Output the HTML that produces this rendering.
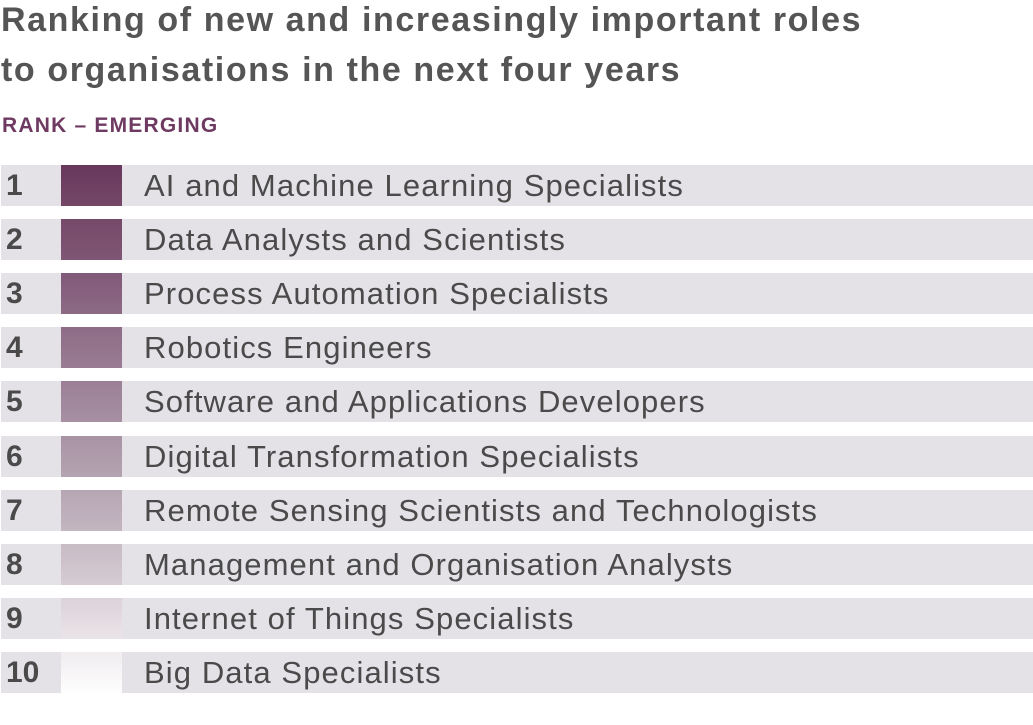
<!DOCTYPE html>
<html><head><style>
body{margin:0;width:1033px;height:725px;background:#fff;font-family:"Liberation Sans",sans-serif;color:#4a4a4a;position:relative;overflow:hidden}
.t{position:absolute;left:1px;font-size:34px;font-weight:bold;color:#555;letter-spacing:1.6px;white-space:nowrap}
.sub{position:absolute;left:2px;top:114px;font-size:21px;font-weight:bold;color:#6e3a62;letter-spacing:1.2px}
.row{position:absolute;left:1px;width:1032px;height:41px;background:#e4e2e7}
.n{position:absolute;left:5px;top:4px;font-size:30px;line-height:34px;font-weight:bold;color:#4a4a4a}
.sw{position:absolute;left:60px;width:61px;top:0;height:41px}
.l{position:absolute;left:143px;top:3px;font-size:31px;color:#4a4a4a;letter-spacing:1.1px;white-space:nowrap}
</style></head><body>
<div class="t" style="top:1px">Ranking of new and increasingly important roles</div>
<div class="t" style="top:51px">to organisations in the next four years</div>
<div class="sub">RANK – EMERGING</div>
<div class="row" style="top:165px"><span class="n">1</span><div class="sw" style="background:linear-gradient(#68375c,#744767)"></div><span class="l">AI and Machine Learning Specialists</span></div>
<div class="row" style="top:219px"><span class="n">2</span><div class="sw" style="background:linear-gradient(#764969,#7f5674)"></div><span class="l">Data Analysts and Scientists</span></div>
<div class="row" style="top:273px"><span class="n">3</span><div class="sw" style="background:linear-gradient(#81597a,#8c6a84)"></div><span class="l">Process Automation Specialists</span></div>
<div class="row" style="top:327px"><span class="n">4</span><div class="sw" style="background:linear-gradient(#8e6c87,#997c93)"></div><span class="l">Robotics Engineers</span></div>
<div class="row" style="top:381px"><span class="n">5</span><div class="sw" style="background:linear-gradient(#9b7f96,#a690a2)"></div><span class="l">Software and Applications Developers</span></div>
<div class="row" style="top:436px"><span class="n">6</span><div class="sw" style="background:linear-gradient(#a893a5,#b4a3b1)"></div><span class="l">Digital Transformation Specialists</span></div>
<div class="row" style="top:490px"><span class="n">7</span><div class="sw" style="background:linear-gradient(#b6a6b3,#c3b6c0)"></div><span class="l">Remote Sensing Scientists and Technologists</span></div>
<div class="row" style="top:544px"><span class="n">8</span><div class="sw" style="background:linear-gradient(#c7bbc4,#d6ccd3)"></div><span class="l">Management and Organisation Analysts</span></div>
<div class="row" style="top:598px"><span class="n">9</span><div class="sw" style="background:linear-gradient(#dcd2da,#eae4e8)"></div><span class="l">Internet of Things Specialists</span></div>
<div class="row" style="top:652px"><span class="n">10</span><div class="sw" style="background:linear-gradient(#f0ecef,#fefefe)"></div><span class="l">Big Data Specialists</span></div>
</body></html>
